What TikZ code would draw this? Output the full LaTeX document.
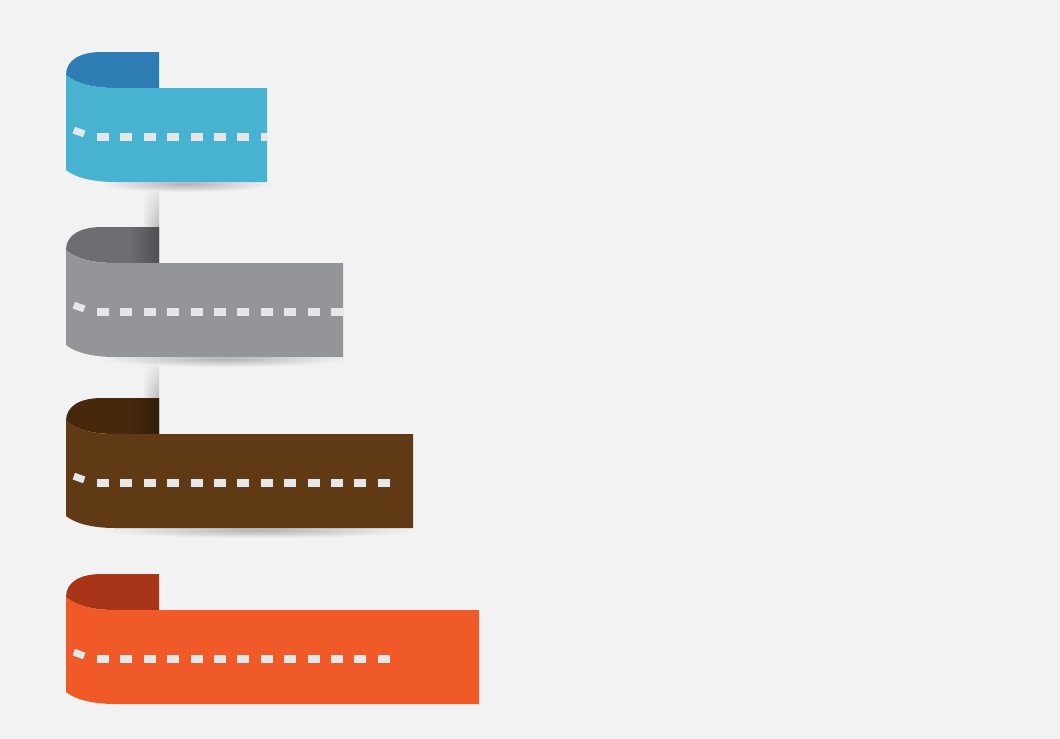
\documentclass[tikz,border=0pt]{standalone}
\usepackage{xcolor}
\usepackage{tikz}
\usetikzlibrary{calc, fadings}

\definecolor{bgpaper}{HTML}{F2F2F2}
\definecolor{dashgray}{HTML}{E6E7E8}
\definecolor{ribblue}{HTML}{47B3D1}
\definecolor{ribbluedark}{HTML}{2E7DB5}
\definecolor{ribgray}{HTML}{939598}
\definecolor{ribgraydark}{HTML}{6D6E71}
\definecolor{ribbrown}{HTML}{603A15}
\definecolor{ribbrowndark}{HTML}{46290D}
\definecolor{riborange}{HTML}{F05A28}
\definecolor{riborangedark}{HTML}{A93518}

\tikzset{
  ribbonface/.style={fill=#1, draw=none},
  ribbontab/.style={fill=#1, draw=none},
  ribbondash/.style={fill=dashgray, draw=none},
  poleshadow/.style={left color=bgpaper, right color=black!28, draw=none,
    path fading=north},
  floorshadow/.style={inner color=black!30, outer color=bgpaper, draw=none},
}

% front face and folded tab of one ribbon (top y, right x)
\newcommand{\facepath}[2]{(66,#1+23) .. controls (76,#1+32) and (94,#1+36) .. (115,#1+36)
  -- (#2,#1+36) -- (#2,#1+130) -- (115,#1+130)
  .. controls (94,#1+130) and (76,#1+126) .. (66,#1+118) -- cycle}
\newcommand{\tabpath}[1]{(66,#1+23) .. controls (66,#1+8) and (80,#1) .. (102,#1)
  -- (159,#1) -- (159,#1+36) -- (115,#1+36)
  .. controls (94,#1+36) and (76,#1+32) .. (66,#1+23) -- cycle}

\begin{document}
\begin{tikzpicture}[x=0.01cm, y=-0.01cm]
  \fill[bgpaper] (0,0) rectangle (1060,739);
  \useasboundingbox (0,0) rectangle (1060,739);

  % shadows of the pole between the ribbons
  \shade[poleshadow] (142,182) rectangle (159,227);
  \shade[poleshadow] (142,356) rectangle (159,398);

  \foreach \top/\right/\face/\tab/\n/\dark/\shadow in {
      52/267/ribblue/ribbluedark/8/0/1,
      227/343/ribgray/ribgraydark/11/1/1,
      398/413/ribbrown/ribbrowndark/13/1/1,
      574/479/riborange/riborangedark/13/0/0} {
    % soft shadow under the ribbon
    \ifnum\shadow=1
      \shade[floorshadow] ($(105,\top+132)!0.5!(\right,\top+132)$)
        ellipse ({(\right-105)/2+4} and 8);
    \fi
    % folded tab
    \fill[ribbontab=\tab] \tabpath{\top};
    \ifnum\dark=1
      \begin{scope}
        \clip \tabpath{\top};
        \shade[left color=\tab, right color=\tab!72!black] (128,\top) rectangle (159,\top+36);
      \end{scope}
    \fi
    % front face
    \fill[ribbonface=\face] \facepath{\top}{\right};
    % dashes
    \begin{scope}
      \clip \facepath{\top}{\right};
      \fill[ribbondash] (72.6,\top+81.4) -- (75,\top+74.8) -- (85.4,\top+78.6)
        -- (83,\top+85.2) -- cycle;
      \foreach \k in {1,...,\n}
        \fill[ribbondash] ({97+(\k-1)*23.4},\top+81) rectangle ++(12,8);
    \end{scope}
  }
\end{tikzpicture}
\end{document}
